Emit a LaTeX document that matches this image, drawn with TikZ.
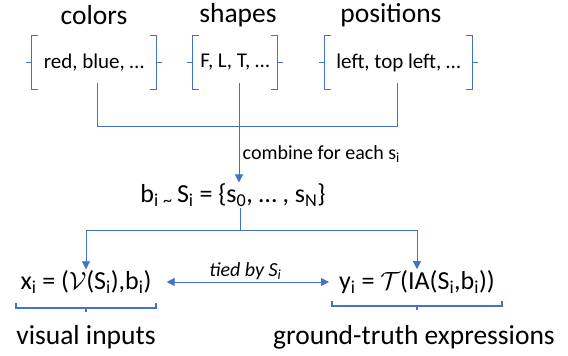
\documentclass[tikz,border=0pt]{standalone}
\usepackage{fontspec}
\setmainfont{Carlito}
\usetikzlibrary{arrows.meta,positioning,calc}
\definecolor{linkblue}{RGB}{68,114,196}
\tikzset{
  conn/.style={draw=linkblue, line width=0.8pt},
  arr/.style={conn, -{Triangle[length=8pt,width=8pt]}},
  dblarr/.style={conn, {Triangle[length=8pt,width=8pt]}-{Triangle[length=8pt,width=8pt]}},
  brk/.style={draw=linkblue, line width=1.1pt},
  heading/.style={font=\fontsize{27.5}{30}\selectfont, inner sep=0pt},
  itemset/.style={font=\fontsize{21}{24}\selectfont, inner sep=0pt, minimum height=53pt},
  formula/.style={font=\fontsize{26}{30}\selectfont, inner sep=1pt},
  note/.style={font=\fontsize{20}{24}\selectfont},
}
\newcommand{\sqbrackets}[1]{%
  \draw[brk] ([xshift=6pt]#1.north west) -- (#1.north west) -- (#1.south west) -- ++(6pt,0);
  \draw[brk] (#1.west) -- ++(-6pt,0);
  \draw[brk] ([xshift=-6pt]#1.north east) -- (#1.north east) -- (#1.south east) -- ++(-6pt,0);
  \draw[brk] (#1.east) -- ++(6pt,0);
}
\newcommand{\underbrk}[4]{% left x, right x, middle x, y
  \draw[brk] (#1,#4-5) -- (#1,#4) -- (#2,#4) -- (#2,#4-5);
  \draw[brk] (#3,#4) -- (#3,#4+4);
}

\begin{document}
\begin{tikzpicture}[x=1pt, y=-1pt]
  \useasboundingbox (0,0) rectangle (568,356);
  % --- attribute sets ---
  \node[heading] (colhead) at (94,15) {colors};
  \node[heading] (shphead) at (238,15) {shapes};
  \node[heading] (poshead) at (391,15) {positions};
  \node[itemset, minimum width=124pt] (colset) at (94,62.5) {red, blue, …};
  \node[itemset, minimum width=84pt] (shpset) at (235,62.5) {F, L, T, …};
  \node[itemset, minimum width=147pt] (posset) at (398.5,62.5) {left, top left, …};
  \sqbrackets{colset}
  \sqbrackets{shpset}
  \sqbrackets{posset}
  % --- combine ---
  \coordinate (merge) at (239,126);
  \draw[conn] ([xshift=3pt,yshift=6pt]colset.south) |- (merge);
  \draw[conn] ([xshift=-1.5pt,yshift=6pt]posset.south) |- (merge);
  \draw[conn] ([xshift=4pt,yshift=6pt]shpset.south) -- (merge);
  \node[formula] (sample) at (233,195)
    {b\textsubscript{i}\,\textsubscript{\textasciitilde}\,S\textsubscript{i} = \{s\textsubscript{0}, … , s\textsubscript{N}\}};
  \draw[arr] (merge) -- (merge |- sample.north)
    node[midway, right, note] {combine for each s\textsubscript{i}};
  % --- inputs and expressions ---
  \node[formula] (xin) at (86,282)
    {x\textsubscript{i} = ($\mathcal{V}$(S\textsubscript{i}),b\textsubscript{i})};
  \node[formula] (yout) at (417,282)
    {y\textsubscript{i} = $\mathcal{T}$($\mathrm{I}$A(S\textsubscript{i},b\textsubscript{i}))};
  \coordinate (split) at (240,230);
  \draw[conn] (split |- sample.south) -- (split);
  \draw[arr] (split) -| (xin.north);
  \draw[arr] (split) -| (yout.north);
  \draw[dblarr, shorten <=14pt, shorten >=9pt] (xin.east) -- (yout.west)
    node[midway, above=-1pt, note, font=\fontsize{20}{24}\selectfont\itshape] {tied by S\textsubscript{i}};
  % --- captions ---
  \underbrk{16}{156}{86}{308}
  \underbrk{332}{502}{417}{306}
  \node[heading] (vislbl) at (86,337) {visual inputs};
  \node[heading] (gtlbl) at (414,337) {ground-truth expressions};
\end{tikzpicture}
\end{document}
